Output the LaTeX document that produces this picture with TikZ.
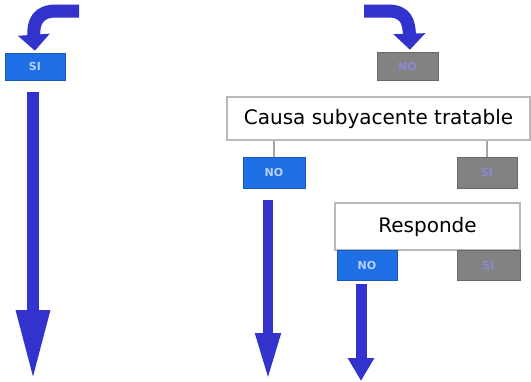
\documentclass[tikz,border=0pt]{standalone}
\usepackage{fontspec}
\setmainfont{DejaVu Sans}
\usetikzlibrary{arrows.meta}
\definecolor{arrowblue}{HTML}{3232CC}
\definecolor{boxblue}{HTML}{1F6FE5}
\definecolor{boxgray}{HTML}{828282}
\definecolor{labelblue}{HTML}{B8D0FF}
\definecolor{labelgray}{HTML}{8A8AD0}
\begin{document}
\begin{tikzpicture}[x=1pt,y=-1pt,
  yesno/.style={inner sep=0pt, font=\fontsize{11}{13}\selectfont\bfseries},
  bluebox/.style={yesno, fill=boxblue, draw=boxblue!80!black, line width=0.6pt, text=labelblue},
  graybox/.style={yesno, fill=boxgray, draw=boxgray!80!black, line width=0.6pt, text=labelgray},
  question/.style={inner sep=0pt, fill=white, draw=gray!55, line width=1.2pt, font=\fontsize{20}{23}\selectfont},
  bigarrow/.style={draw=arrowblue, line cap=butt},
  tick/.style={draw=gray!70, line width=1.5pt}
]
\useasboundingbox (0,0) rectangle (531,381);
\fill[white] (0,0) rectangle (531,381);

% nodes
\node[bluebox, minimum width=60pt, minimum height=27pt] (si1) at (35,66.5) {SI};
\node[graybox, minimum width=61pt, minimum height=28pt] (no1) at (407.5,66) {NO};
\node[question, minimum width=303pt, minimum height=43pt] (causa) at (378.5,118.5) {Causa subyacente tratable};
\node[bluebox, minimum width=62pt, minimum height=31pt] (no2) at (274,172.5) {NO};
\node[graybox, minimum width=60pt, minimum height=31pt] (si2) at (487,172.5) {SI};
\node[question, minimum width=185pt, minimum height=47pt] (resp) at (427.5,226.5) {Responde};
\node[bluebox, minimum width=60pt, minimum height=30pt] (no3) at (367,265) {NO};
\node[graybox, minimum width=63pt, minimum height=30pt] (si3) at (488.5,265) {SI};

% free ends
\coordinate (l0) at (79,11);
\coordinate (r0) at (364,11);
\coordinate (e1) at (33,381);
\coordinate (e2) at (268,381);
\coordinate (e3) at (361,381);

% curved arrows at the top
\draw[bigarrow, line width=13pt, -{Triangle[width=31pt,length=16pt]}, shorten >=2pt]
  (l0) -- (56,11) .. controls (38,11) and (33,22) .. (si1.north);
\draw[bigarrow, line width=13pt, -{Triangle[width=31pt,length=16pt]}, shorten >=2pt]
  (r0) -- (388,11) .. controls (406,11) and (409,22) .. ([xshift=2.5pt]no1.north);

% ticks from question boxes
\draw[tick] (causa.south -| no2.north) -- (no2.north);
\draw[tick] (causa.south -| si2.north) -- (si2.north);

% long arrows
\draw[bigarrow, line width=12pt, -{Triangle[width=31pt,length=71pt]}, shorten <=12pt]
  ([xshift=-2pt]si1.south) -- (e1);
\draw[bigarrow, line width=10pt, -{Triangle[width=23pt,length=48pt]}, shorten <=12pt]
  ([xshift=-6pt]no2.south) -- (e2);
\draw[bigarrow, line width=11pt, -{Triangle[width=25pt,length=23pt]}, shorten <=4pt]
  ([xshift=-6pt]no3.south) -- (e3);
\end{tikzpicture}
\end{document}
